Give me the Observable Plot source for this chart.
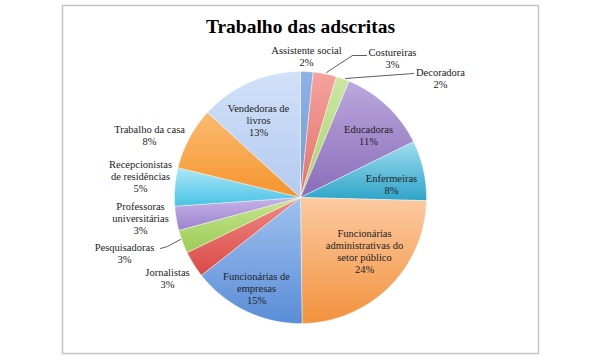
<!DOCTYPE html>
<html><head><meta charset="utf-8">
<script src="https://cdn.jsdelivr.net/npm/d3@7"></script>
<script src="https://cdn.jsdelivr.net/npm/@observablehq/plot@0.6"></script>
<style>body{margin:0;background:#fff}</style>
</head><body><div id="chart"></div>
<script>
// ---- data ----
const title = "Trabalho das adscritas";
const categories = [
  "Assistente social", "Costureiras", "Decoradora", "Educadoras", "Enfermeiras",
  "Funcionárias\nadministrativas do\nsetor público", "Funcionárias de\nempresas",
  "Jornalistas", "Pesquisadoras", "Professoras\nuniversitárias",
  "Recepcionistas\nde residências", "Trabalho da casa", "Vendedoras de\nlivros"
];
const shares = [1.6, 3.0, 1.7, 11.4, 7.7, 24.4, 14.6, 3.4, 3.0, 3.1, 4.9, 8.0, 13.2];
const lightColors = ["#8fb3e8", "#f4a39d", "#cbe7a3", "#bba8dd", "#9fdcf1", "#fccaa2", "#9fc2ef", "#ef8a84", "#c5e590", "#c6b3e7", "#ace7f7", "#fbbb70", "#d0e1f8"];
const darkColors  = ["#6c98d8", "#e4706a", "#a8d36b", "#8a6cb9", "#2ea4c8", "#f2923c", "#5a8dd7", "#da4a46", "#9ccc56", "#9c82cd", "#48c2e5", "#f5942d", "#b4cbef"];

// ---- layout (pixels relative to pie centre) ----
const R = 126;
const labelOffsets = [[6,141],[92,139.5],[140,119.5],[68,62.5],[91,13.5],[64,-54],[-44,-90.5],[-133,-80.5],[-176,-55.5],[-160,-21],[-160,21.5],[-151,62.5],[-42,77.5]];
const leaderLines = [
  {id: "Costureiras", pts: [[26,125],[52,142],[66,142]]},
  {id: "Decoradora", pts: [[45,119],[113,124]]},
  {id: "Pesquisadoras", pts: [[-140,-51],[-133,-49],[-120,-42]]}
];

// ---- build slice polygons from shares ----
const total = d3.sum(shares);
const slices = [];
let acc = 0;
categories.forEach((name, i) => {
  const a0 = acc / total * 2 * Math.PI;
  acc += shares[i];
  const a1 = acc / total * 2 * Math.PI;
  const fill = `url(#g${i})`;
  const n = Math.max(2, Math.ceil((a1 - a0) / (Math.PI / 360)));
  slices.push({name, x: 0, y: 0, fill});
  for (let k = 0; k <= n; k++) {
    const a = a0 + (a1 - a0) * k / n;
    slices.push({name, x: R * Math.sin(a), y: R * Math.cos(a), fill});
  }
  slices.push({name, x: 0, y: 0, fill});
});
const labels = categories.map((name, i) => ({
  text: name + "\n" + Math.round(shares[i] / total * 100) + "%",
  x: labelOffsets[i][0], y: labelOffsets[i][1]
}));
const leaders = leaderLines.flatMap(l => l.pts.map(([x, y]) => ({id: l.id, x, y})));

function gradients() {
  const defs = d3.create("svg:defs");
  categories.forEach((c, i) => {
    const g = defs.append("linearGradient").attr("id", `g${i}`)
      .attr("x1", 0).attr("y1", 0).attr("x2", 0).attr("y2", 1);
    g.append("stop").attr("offset", "0%").attr("stop-color", lightColors[i]);
    g.append("stop").attr("offset", "100%").attr("stop-color", darkColors[i]);
  });
  return defs.node();
}

const chart = Plot.plot({
  width: 600, height: 360,
  marginLeft: 62, marginRight: 62, marginTop: 5, marginBottom: 7,
  x: {domain: [-238, 238], axis: null},
  y: {domain: [-156, 192], axis: null},
  color: {type: "identity"},
  style: {background: "#fff"},
  marks: [
    gradients,
    Plot.frame({stroke: "#c4c4c4", strokeWidth: 1.5}),
    Plot.line(slices, {x: "x", y: "y", z: "name", fill: "fill", stroke: "#ffffff", strokeWidth: 0.6, strokeOpacity: 0.7}),
    Plot.line(leaders, {x: "x", y: "y", z: "id", stroke: "#333", strokeWidth: 0.8}),
    Plot.text(labels, {x: "x", y: "y", text: "text", fontFamily: "Liberation Serif", fontSize: 10.5, lineHeight: 1.14, fill: "#222"}),
    Plot.text([title], {text: d => d, frameAnchor: "top", lineAnchor: "top", dy: 13.5, fontFamily: "Liberation Serif", fontWeight: "bold", fontSize: 19.5, fill: "#000"})
  ]
});
document.getElementById("chart").append(chart);
</script>
</body></html>
